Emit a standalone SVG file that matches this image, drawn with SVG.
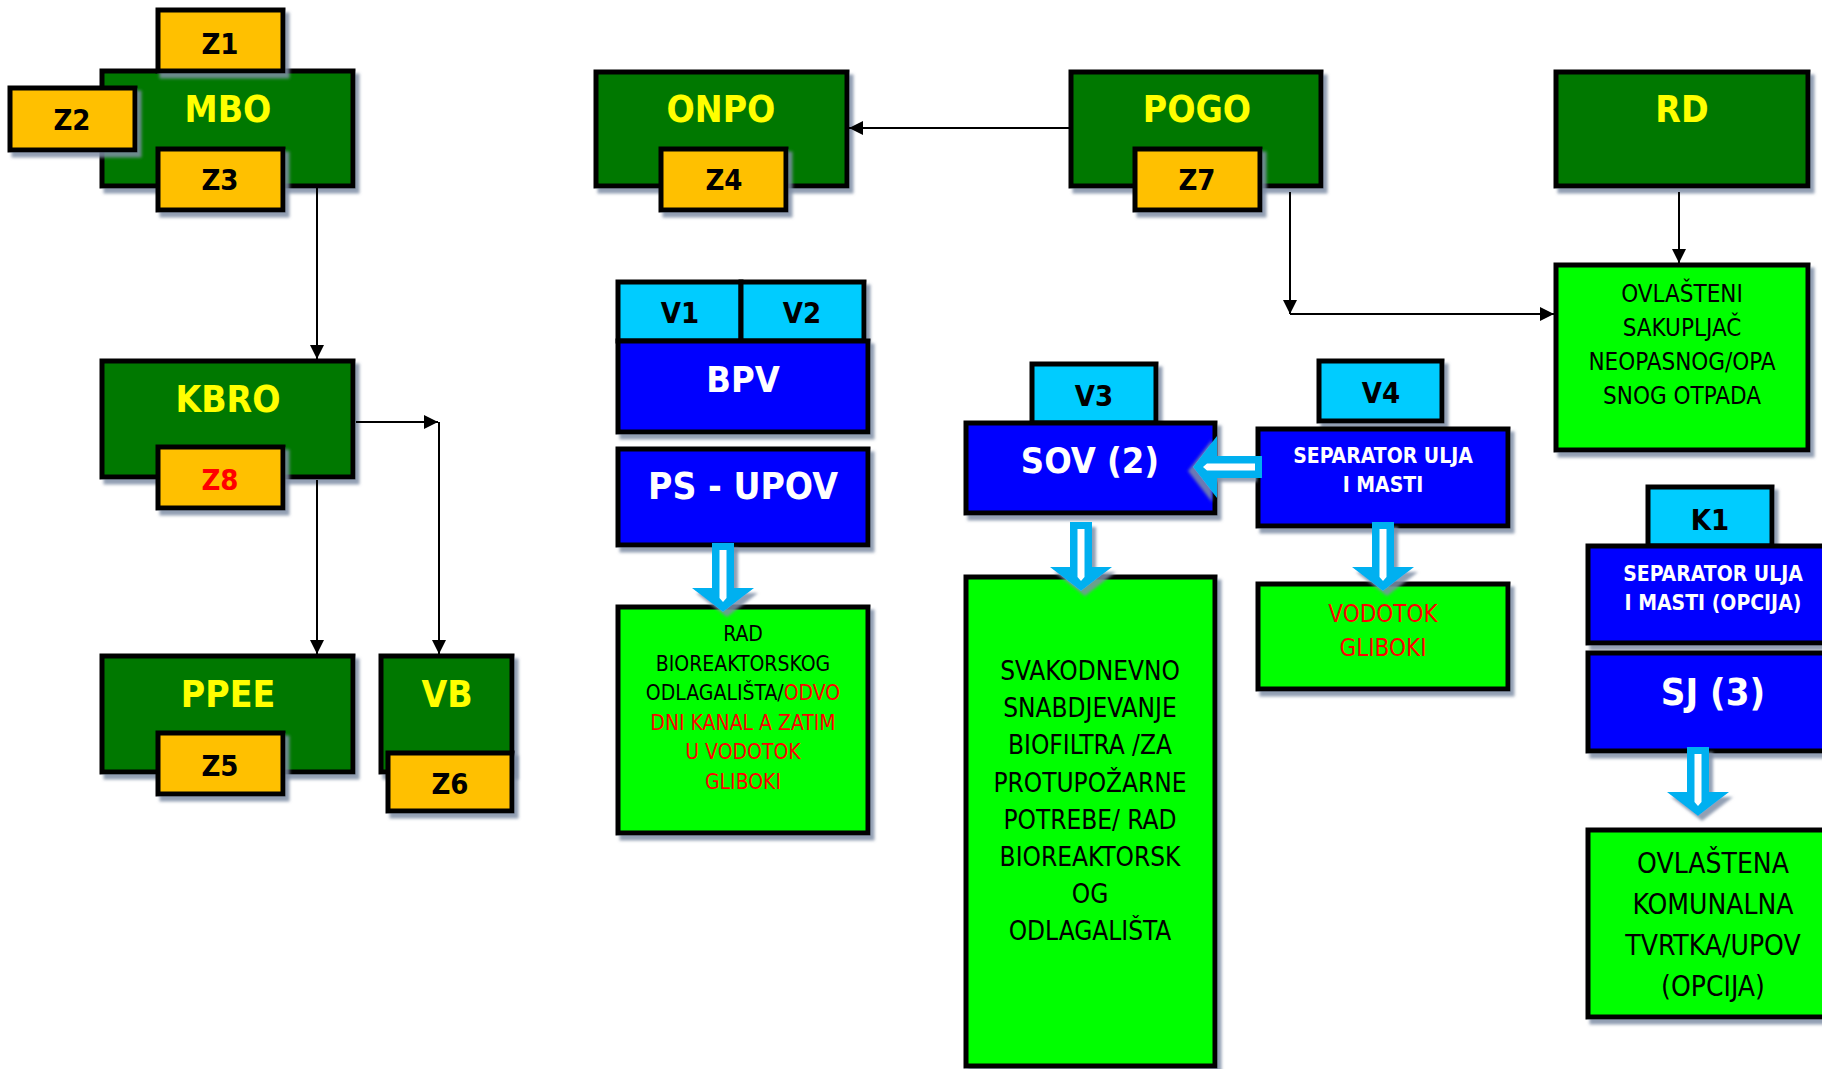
<svg xmlns="http://www.w3.org/2000/svg" xmlns:xlink="http://www.w3.org/1999/xlink" width="1822" height="1069" viewBox="0 0 1822 1069">
<style>
rect{stroke:#000;stroke-width:5}
.g{fill:#007800}.z{fill:#FFC000}.c{fill:#00CCFF}.b{fill:#0000FF}.l{fill:#00FF00}
.sh{filter:url(#sh)}
text{font-family:"DejaVu Sans Condensed","DejaVu Sans",sans-serif;font-stretch:condensed;text-anchor:middle}
.ty{font-weight:bold;font-size:37px;fill:#FFFF00}
.tz{font-weight:bold;font-size:29px;fill:#000}
.tzr{font-weight:bold;font-size:29px;fill:#FF0000}
.tw{font-weight:bold;fill:#FFFFFF}
.tn{fill:#000}
.r{fill:#FF0000}
.con{fill:none;stroke:#000;stroke-width:2}
.hao{fill:#00B0F0}
.hai{fill:#FFFFFF}
</style>
<defs>
<filter id="sh" x="-10%" y="-10%" width="130%" height="130%">
<feDropShadow dx="4" dy="5" stdDeviation="1.5" flood-color="#7f8ea6" flood-opacity="0.85"/>
</filter>
<marker id="ah" markerUnits="userSpaceOnUse" markerWidth="15" markerHeight="15" refX="14" refY="7" orient="auto">
<path d="M0,0 L14,7 L0,14 Z" fill="#000"/>
</marker>
<g id="hollow">
<path class="hao" d="M-11,0 H11 V45 H31 L0,69 L-31,45 H-11 Z"/>
<path class="hai" d="M-3.5,7 H3.5 V55 L0,59 L-3.5,55 Z"/>
</g>
</defs>

<g id="mbo">
<rect class="g sh" x="102" y="71" width="251" height="115"/>
<text class="ty" x="228" y="122">MBO</text>
</g>
<g id="z1"><rect class="z sh" x="158" y="10" width="125" height="61"/><text class="tz" x="220" y="54">Z1</text></g>
<g id="z2"><rect class="z sh" x="10" y="88" width="125" height="62"/><text class="tz" x="72" y="130">Z2</text></g>
<g id="z3"><rect class="z sh" x="158" y="149" width="125" height="61"/><text class="tz" x="220" y="190">Z3</text></g>

<g id="kbro">
<rect class="g sh" x="102" y="361" width="251" height="116"/>
<text class="ty" x="228" y="412">KBRO</text>
</g>
<g id="z8"><rect class="z sh" x="158" y="447" width="125" height="61"/><text class="tzr" x="220" y="490">Z8</text></g>

<g id="ppee">
<rect class="g sh" x="102" y="656" width="251" height="116"/>
<text class="ty" x="228" y="707">PPEE</text>
</g>
<g id="z5"><rect class="z sh" x="158" y="733" width="125" height="61"/><text class="tz" x="220" y="776">Z5</text></g>

<g id="vb">
<rect class="g sh" x="381" y="656" width="131" height="116"/>
<text class="ty" x="447" y="707">VB</text>
</g>
<g id="z6"><rect class="z sh" x="388" y="753" width="124" height="58"/><text class="tz" x="450" y="794">Z6</text></g>

<g id="onpo">
<rect class="g sh" x="596" y="72" width="251" height="114"/>
<text class="ty" x="721" y="122">ONPO</text>
</g>
<g id="z4"><rect class="z sh" x="661" y="149" width="125" height="61"/><text class="tz" x="724" y="190">Z4</text></g>

<g id="pogo">
<rect class="g sh" x="1071" y="72" width="250" height="114"/>
<text class="ty" x="1197" y="122">POGO</text>
</g>
<g id="z7"><rect class="z sh" x="1135" y="149" width="125" height="61"/><text class="tz" x="1197" y="190">Z7</text></g>

<g id="rd">
<rect class="g sh" x="1556" y="72" width="252" height="114"/>
<text class="ty" x="1682" y="122">RD</text>
</g>

<g id="ovlasteni">
<rect class="l sh" x="1556" y="265" width="252" height="185"/>
<text class="tn" font-size="24" x="1682" y="302">OVLAŠTENI</text>
<text class="tn" font-size="24" x="1682" y="336">SAKUPLJAČ</text>
<text class="tn" font-size="24" x="1682" y="370">NEOPASNOG/OPA</text>
<text class="tn" font-size="24" x="1682" y="404">SNOG OTPADA</text>
</g>

<g id="v1"><rect class="c sh" x="618" y="282" width="123" height="59"/><text class="tz" x="680" y="323">V1</text></g>
<g id="v2"><rect class="c sh" x="741" y="282" width="123" height="59"/><text class="tz" x="802" y="323">V2</text></g>
<g id="bpv">
<rect class="b sh" x="618" y="341" width="250" height="91"/>
<text class="tw" font-size="36" x="743" y="392">BPV</text>
</g>
<g id="ps-upov">
<rect class="b sh" x="618" y="449" width="250" height="96"/>
<text class="tw" font-size="37" x="743" y="499">PS - UPOV</text>
</g>
<g id="rad">
<rect class="l sh" x="618" y="607" width="250" height="226"/>
<text class="tn" font-size="21" x="743" y="641">RAD</text>
<text class="tn" font-size="21" x="743" y="671">BIOREAKTORSKOG</text>
<text class="tn" font-size="21" x="743" y="700">ODLAGALIŠTA/<tspan class="r">ODVO</tspan></text>
<text class="r" font-size="21" x="743" y="730">DNI KANAL A ZATIM</text>
<text class="r" font-size="21" x="743" y="759">U VODOTOK</text>
<text class="r" font-size="21" x="743" y="789">GLIBOKI</text>
</g>

<g id="v3"><rect class="c sh" x="1032" y="364" width="124" height="59"/><text class="tz" x="1094" y="406">V3</text></g>
<g id="sov">
<rect class="b sh" x="966" y="423" width="249" height="90"/>
<text class="tw" font-size="36" x="1090" y="473">SOV (2)</text>
</g>
<g id="svakodnevno">
<rect class="l sh" x="966" y="577" width="249" height="489"/>
<text class="tn" font-size="26" x="1090" y="680">SVAKODNEVNO</text>
<text class="tn" font-size="26" x="1090" y="717">SNABDJEVANJE</text>
<text class="tn" font-size="26" x="1090" y="754">BIOFILTRA /ZA</text>
<text class="tn" font-size="26" x="1090" y="792">PROTUPOŽARNE</text>
<text class="tn" font-size="26" x="1090" y="829">POTREBE/ RAD</text>
<text class="tn" font-size="26" x="1090" y="866">BIOREAKTORSK</text>
<text class="tn" font-size="26" x="1090" y="903">OG</text>
<text class="tn" font-size="26" x="1090" y="940">ODLAGALIŠTA</text>
</g>

<g id="v4"><rect class="c sh" x="1319" y="361" width="123" height="60"/><text class="tz" x="1381" y="403">V4</text></g>
<g id="separator">
<rect class="b sh" x="1258" y="429" width="250" height="97"/>
<text class="tw" font-size="21" x="1383" y="463">SEPARATOR ULJA</text>
<text class="tw" font-size="21" x="1383" y="492">I MASTI</text>
</g>
<g id="vodotok">
<rect class="l sh" x="1258" y="584" width="250" height="105"/>
<text class="r" font-size="24" x="1383" y="622">VODOTOK</text>
<text class="r" font-size="24" x="1383" y="656">GLIBOKI</text>
</g>

<g id="k1"><rect class="c sh" x="1648" y="487" width="124" height="59"/><text class="tz" x="1710" y="530">K1</text></g>
<g id="separator-opcija">
<rect class="b sh" x="1588" y="546" width="252" height="97"/>
<text class="tw" font-size="21" x="1713" y="581">SEPARATOR ULJA</text>
<text class="tw" font-size="21" x="1713" y="610">I MASTI (OPCIJA)</text>
</g>
<g id="sj">
<rect class="b sh" x="1588" y="653" width="252" height="98"/>
<text class="tw" font-size="38" x="1713" y="705">SJ (3)</text>
</g>
<g id="ovlastena">
<rect class="l sh" x="1588" y="830" width="252" height="187"/>
<text class="tn" font-size="28" x="1713" y="873">OVLAŠTENA</text>
<text class="tn" font-size="28" x="1713" y="914">KOMUNALNA</text>
<text class="tn" font-size="28" x="1713" y="955">TVRTKA/UPOV</text>
<text class="tn" font-size="28" x="1713" y="996">(OPCIJA)</text>
</g>

<g id="connectors">
<path class="con" d="M317,188 V359" marker-end="url(#ah)"/>
<path class="con" d="M317,480 V654" marker-end="url(#ah)"/>
<path class="con" d="M356,422 H438" marker-end="url(#ah)"/>
<path class="con" d="M439,422 V654" marker-end="url(#ah)"/>
<path class="con" d="M1071,128 H849" marker-end="url(#ah)"/>
<path class="con" d="M1290,192 V314" marker-end="url(#ah)"/>
<path class="con" d="M1290,314 H1554" marker-end="url(#ah)"/>
<path class="con" d="M1679,192 V263" marker-end="url(#ah)"/>
<use xlink:href="#hollow" class="sh" transform="translate(723,543)"/>
<use xlink:href="#hollow" class="sh" transform="translate(1081,522)"/>
<use xlink:href="#hollow" class="sh" transform="translate(1383,522)"/>
<use xlink:href="#hollow" class="sh" transform="translate(1698,747)"/>
<use xlink:href="#hollow" class="sh" transform="translate(1262,467) rotate(90)"/>
</g>
</svg>
